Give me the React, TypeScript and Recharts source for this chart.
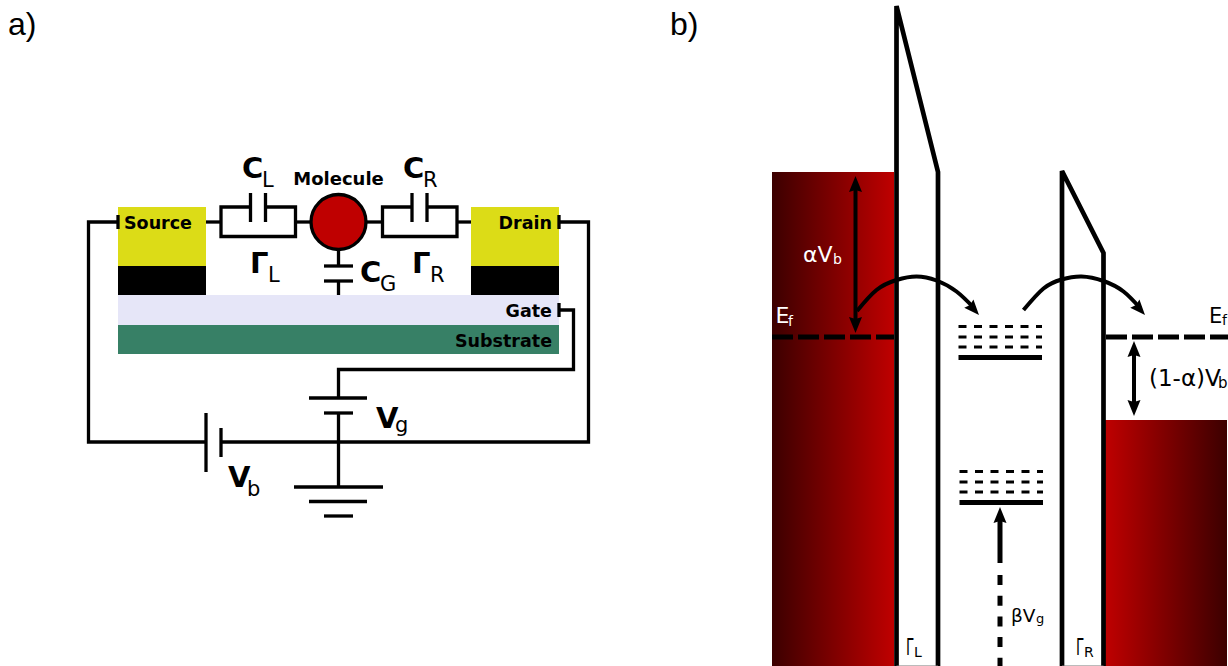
import { ComposedChart, Line, ReferenceArea, ReferenceDot, XAxis, YAxis } from "recharts";

type Pt = [number, number];
type Tag = { x: number; y: number; text: string; sub?: string; subX?: number; subY?: number; squeeze?: number };

const WIDTH = 1228;
const HEIGHT = 666;

// panel a: blocks as [x1, x2, y1, y2]
const yellowBlocks = [[118, 206, 207, 266], [471, 559, 207, 266]];
const blackBlocks = [[118, 206, 266, 295], [471, 559, 266, 295]];
const gateBlock = [118, 559, 295, 325];
const substrateBlock = [118, 559, 325, 354];
const molecule: Pt = [338.5, 222];

// panel a: wires
const wires: Pt[][] = [
  [[118, 222], [88.5, 222], [88.5, 442], [206, 442]],
  [[221, 442], [588.5, 442], [588.5, 222], [559, 222]],
  [[206, 222], [221, 222]],
  [[250.5, 207], [221, 207], [221, 236.5], [295.5, 236.5], [295.5, 207], [265.5, 207]],
  [[295.5, 222], [310, 222]],
  [[367, 222], [382.5, 222]],
  [[412, 207], [382.5, 207], [382.5, 236.5], [457, 236.5], [457, 207], [427, 207]],
  [[457, 222], [471, 222]],
  [[338.5, 250], [338.5, 266]],
  [[338.5, 281], [338.5, 295]],
  [[559, 310], [573.5, 310], [573.5, 369.5], [338.5, 369.5], [338.5, 398]],
  [[338.5, 413], [338.5, 487]],
];

// panel a: plates and ticks
const plates: Pt[][] = [
  [[250.5, 193], [250.5, 222]],
  [[265.5, 193], [265.5, 222]],
  [[412, 193], [412, 222]],
  [[427, 193], [427, 222]],
  [[324, 266], [353, 266]],
  [[324, 281], [353, 281]],
  [[309, 398], [367, 398]],
  [[324, 413], [353, 413]],
  [[206, 413], [206, 472]],
  [[221, 428], [221, 457]],
  [[294, 487], [383, 487]],
  [[309, 501.5], [367, 501.5]],
  [[324, 516], [353, 516]],
  [[118, 215], [118, 229]],
  [[559, 215], [559, 229]],
  [[559, 303], [559, 317]],
];

// panel b: bands and barriers
const leftBand = [772, 894, 172, 666];
const rightBand = [1105, 1227, 420, 666];
const leftBarrier: Pt[] = [[896.5, 666], [896.5, 6], [938, 172], [938, 666]];
const rightBarrier: Pt[] = [[1062, 666], [1062, 171], [1103.5, 253], [1103.5, 666]];
const barrierFloors: Pt[][] = [
  [[896.5, 666], [938, 666]],
  [[1062, 666], [1103.5, 666]],
];

// panel b: levels
const fermiLevels: Pt[][] = [
  [[772, 337], [894, 337]],
  [[1106, 337], [1228, 337]],
];
const solidLevels: Pt[][] = [
  [[958.5, 357.5], [1042, 357.5]],
  [[959.5, 502.5], [1043, 502.5]],
];
const dashedLevels: Pt[][] = [
  [[958.5, 326.5], [1042, 326.5]],
  [[958.5, 337], [1042, 337]],
  [[958.5, 347], [1042, 347]],
  [[959.5, 471.5], [1043, 471.5]],
  [[959.5, 482], [1043, 482]],
  [[959.5, 492], [1043, 492]],
];

// panel b: arrows
const arrowShafts: Pt[][] = [
  [[855.5, 186], [855.5, 322]],
  [[1134, 351], [1134, 406]],
];
const gateShaft: Pt[] = [[1000, 563], [1000, 516]];
const gateDashes: Pt[] = [[1000, 575], [1000, 666]];
const hopLeft: Pt[] = [[857, 311], [876.5, 290], [896.5, 280], [916.5, 276.5], [936.5, 280.5], [956.5, 291.5], [974, 308]];
const hopRight: Pt[] = [[1023.5, 310], [1043.5, 288.5], [1061.5, 279.5], [1081.5, 276.5], [1103.5, 281], [1123.5, 291.5], [1140, 308]];
const arrowTips = [
  { x: 855.5, y: 176, angle: 0 },
  { x: 855.5, y: 333, angle: 180 },
  { x: 1134, y: 341, angle: 0 },
  { x: 1134, y: 416, angle: 180 },
  { x: 1000, y: 507, angle: 0 },
];
const hopTips = [
  { x: 979, y: 315, angle: 138 },
  { x: 1145, y: 315, angle: 138 },
];

// text
const panelTags: Tag[] = [
  { x: 8, y: 35, text: "a)" },
  { x: 670, y: 35, text: "b)" },
];
const startTags: Tag[] = [{ x: 124, y: 229, text: "Source" }];
const endTags: Tag[] = [
  { x: 552, y: 229, text: "Drain" },
  { x: 552, y: 317, text: "Gate" },
  { x: 552, y: 347, text: "Substrate" },
];
const moleculeTag: Tag = { x: 338.5, y: 185, text: "Molecule" };
const circuitSymbols: Tag[] = [
  { x: 242, y: 178, text: "C", sub: "L", subX: 262, subY: 187 },
  { x: 403, y: 178, text: "C", sub: "R", subX: 423, subY: 187 },
  { x: 250, y: 273, text: "Γ", sub: "L", subX: 268, subY: 282 },
  { x: 412, y: 273, text: "Γ", sub: "R", subX: 430, subY: 282 },
  { x: 360, y: 282, text: "C", sub: "G", subX: 380, subY: 291 },
  { x: 376, y: 428, text: "V", sub: "g", subX: 395, subY: 432 },
  { x: 228, y: 487, text: "V", sub: "b", subX: 247, subY: 496 },
];
const whiteBandTags: Tag[] = [
  { x: 803, y: 262, text: "αV", sub: "b", subX: 833, subY: 264 },
  { x: 775.5, y: 323, text: "E", sub: "f", subX: 788, subY: 326 },
];
const fermiTag: Tag = { x: 1209, y: 323, text: "E", sub: "f", subX: 1222, subY: 325 };
const bias: Tag = { x: 1149, y: 386, text: "(1-α)V", sub: "b", subX: 1218, subY: 388 };
const gateTag: Tag = { x: 1011, y: 622, text: "βV", sub: "g", subX: 1036, subY: 623 };
const barrierTags: Tag[] = [
  { x: 906, y: 655, text: "Γ", sub: "L", subX: 914, subY: 657, squeeze: 7.5 },
  { x: 1076, y: 655, text: "Γ", sub: "R", subX: 1084, subY: 657, squeeze: 7.5 },
];

const toRows = (pts: Pt[]) => pts.map(([x, y]) => ({ x, y }));

const FONT = "'DejaVu Sans', sans-serif";

const drawPath = (pts: Pt[], key: string, width: number, rest: object = {}) => (
  <Line
    key={key}
    data={toRows(pts)}
    dataKey="y"
    type="linear"
    stroke="#000"
    strokeWidth={width}
    strokeLinejoin="miter"
    dot={false}
    activeDot={false}
    legendType="none"
    isAnimationActive={false}
    {...rest}
  />
);

const drawBlock = (b: number[], key: string, fill: string) => (
  <ReferenceArea key={key} x1={b[0]} x2={b[1]} y1={b[2]} y2={b[3]} fill={fill} fillOpacity={1} stroke="none" />
);

const drawTag = (
  t: Tag,
  key: string,
  opts: { size: number; subSize?: number; bold?: boolean; fill?: string; anchor?: string; family?: string },
) => (
  <ReferenceDot
    key={key}
    x={t.x}
    y={t.y}
    r={0}
    shape={(p: any) => (
      <g fontFamily={opts.family ?? FONT} fill={opts.fill ?? "#000"}>
        <text
          x={p.cx}
          y={p.cy}
          fontSize={opts.size}
          fontWeight={opts.bold ? 700 : 400}
          textAnchor={(opts.anchor ?? "start") as any}
          textLength={t.squeeze}
          lengthAdjust={t.squeeze ? "spacingAndGlyphs" : undefined}
        >
          {t.text}
        </text>
        {t.sub && (
          <text x={p.cx + ((t.subX as number) - t.x)} y={p.cy + ((t.subY as number) - t.y)} fontSize={opts.subSize}>
            {t.sub}
          </text>
        )}
      </g>
    )}
  />
);

const drawTip = (t: { x: number; y: number; angle: number }, key: string, scale: number) => (
  <ReferenceDot
    key={key}
    x={t.x}
    y={t.y}
    r={0}
    shape={(p: any) => (
      <path
        d="M0 0 L6.5 16 L0 14 L-6.5 16 Z"
        fill="#000"
        transform={`translate(${p.cx} ${p.cy}) rotate(${t.angle}) scale(${scale})`}
      />
    )}
  />
);

export default function App() {
  return (
    <div style={{ position: "absolute", left: 0, top: 0, width: WIDTH, height: HEIGHT, background: "#fff" }}>
      <ComposedChart width={WIDTH} height={HEIGHT} margin={{ top: 0, right: 0, bottom: 0, left: 0 }}>
        <defs>
          <linearGradient id="bandLeft" x1="0" y1="0" x2="1" y2="0">
            <stop offset="0" stopColor="#3c0000" />
            <stop offset="1" stopColor="#bf0000" />
          </linearGradient>
          <linearGradient id="bandRight" x1="0" y1="0" x2="1" y2="0">
            <stop offset="0" stopColor="#bf0000" />
            <stop offset="1" stopColor="#3c0000" />
          </linearGradient>
        </defs>
        <XAxis type="number" dataKey="x" domain={[0, WIDTH]} hide allowDataOverflow />
        <YAxis type="number" domain={[0, HEIGHT]} reversed hide allowDataOverflow />

        {yellowBlocks.map((b, i) => drawBlock(b, `yellow${i}`, "#dcdc17"))}
        {blackBlocks.map((b, i) => drawBlock(b, `black${i}`, "#000"))}
        {drawBlock(gateBlock, "gate", "#e6e6f8")}
        {drawBlock(substrateBlock, "substrate", "#378066")}
        {drawBlock(leftBand, "leftBand", "url(#bandLeft)")}
        {drawBlock(rightBand, "rightBand", "url(#bandRight)")}

        {wires.map((w, i) => drawPath(w, `wire${i}`, 3.3))}
        {plates.map((w, i) => drawPath(w, `plate${i}`, 3.3))}
        <ReferenceDot x={molecule[0]} y={molecule[1]} r={27.5} fill="#bf0000" stroke="#000" strokeWidth={3.3} />

        {drawPath(leftBarrier, "leftBarrier", 4.7)}
        {drawPath(rightBarrier, "rightBarrier", 4.7)}
        {barrierFloors.map((w, i) => drawPath(w, `floor${i}`, 1, { stroke: "#777" }))}

        {fermiLevels.map((w, i) => drawPath(w, `fermi${i}`, 5, { strokeDasharray: "21 5" }))}
        {solidLevels.map((w, i) => drawPath(w, `solid${i}`, 5))}
        {dashedLevels.map((w, i) => drawPath(w, `dashed${i}`, 3, { strokeDasharray: "8 7.5" }))}

        {arrowShafts.map((w, i) => drawPath(w, `shaft${i}`, 4))}
        {drawPath(gateShaft, "gateShaft", 5)}
        {drawPath(gateDashes, "gateDashes", 5, { strokeDasharray: "10 10.7" })}
        {drawPath(hopLeft, "hopLeft", 4, { type: "natural" })}
        {drawPath(hopRight, "hopRight", 4, { type: "natural" })}
        {arrowTips.map((t, i) => drawTip(t, `tip${i}`, 1))}
        {hopTips.map((t, i) => drawTip(t, `hopTip${i}`, 0.95))}

        {panelTags.map((t, i) => drawTag(t, `panel${i}`, { size: 32, family: "'Liberation Sans', sans-serif" }))}
        {startTags.map((t, i) => drawTag(t, `start${i}`, { size: 17.5, bold: true }))}
        {endTags.map((t, i) => drawTag(t, `end${i}`, { size: 17.5, bold: true, anchor: "end" }))}
        {drawTag(moleculeTag, "molecule", { size: 18, bold: true, anchor: "middle" })}
        {circuitSymbols.map((t, i) => drawTag(t, `sym${i}`, { size: 29, subSize: 21, bold: true }))}
        {whiteBandTags.map((t, i) => drawTag(t, `white${i}`, { size: 22, subSize: 14, fill: "#fff" }))}
        {drawTag(fermiTag, "fermiTag", { size: 21, subSize: 14 })}
        {drawTag(bias, "bias", { size: 23, subSize: 15 })}
        {drawTag(gateTag, "gateTag", { size: 18.5, subSize: 13 })}
        {barrierTags.map((t, i) => drawTag(t, `barrier${i}`, { size: 23, subSize: 14 }))}
      </ComposedChart>
    </div>
  );
}
